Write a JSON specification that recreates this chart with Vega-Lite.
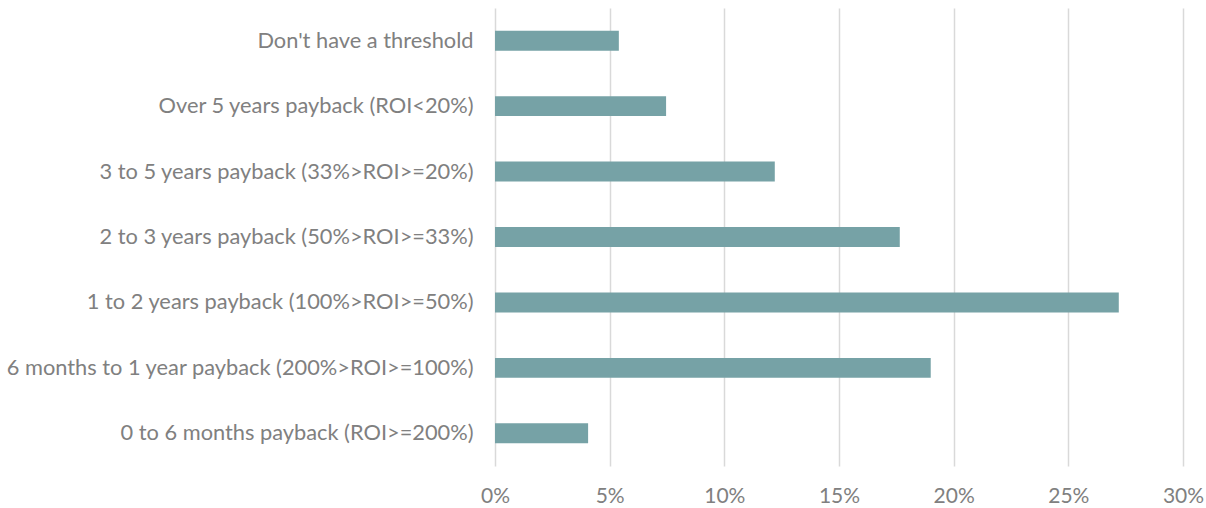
{
  "$schema": "https://vega.github.io/schema/vega-lite/v6.json",
  "width": 688,
  "height": 458,
  "autosize": {"type": "none"},
  "padding": {"left": 495, "top": 8, "right": 23, "bottom": 42},
  "background": "white",
  "config": {"view": {"stroke": null}, "font": "Lato"},
  "data": {
    "values": [
      {"category": "Don't have a threshold", "value": 0.054},
      {"category": "Over 5 years payback (ROI<20%)", "value": 0.0746},
      {"category": "3 to 5 years payback (33%>ROI>=20%)", "value": 0.122},
      {"category": "2 to 3 years payback (50%>ROI>=33%)", "value": 0.1765},
      {"category": "1 to 2 years payback (100%>ROI>=50%)", "value": 0.272},
      {"category": "6 months to 1 year payback (200%>ROI>=100%)", "value": 0.19},
      {"category": "0 to 6 months payback (ROI>=200%)", "value": 0.0406}
    ]
  },
  "mark": {"type": "bar", "color": "#76A2A6"},
  "encoding": {
    "y": {
      "field": "category",
      "type": "nominal",
      "sort": null,
      "scale": {"paddingInner": 0.695, "paddingOuter": 0.3475},
      "axis": {
        "title": null,
        "domain": false,
        "ticks": false,
        "labelPadding": 22,
        "labelFontSize": 21.8,
        "labelColor": "#808080",
        "labelLimit": 600,
        "labelFont": "Lato"
      }
    },
    "x": {
      "field": "value",
      "type": "quantitative",
      "scale": {"domain": [0, 0.3], "nice": false},
      "axis": {
        "title": null,
        "format": ".0%",
        "values": [0, 0.05, 0.1, 0.15, 0.2, 0.25, 0.3],
        "domain": false,
        "ticks": false,
        "labelFlush": false,
        "labelPadding": 19,
        "labelFontSize": 21,
        "labelColor": "#808080",
        "gridColor": "#D9D9D9",
        "gridWidth": 1.5,
        "labelFont": "Lato"
      }
    }
  }
}
